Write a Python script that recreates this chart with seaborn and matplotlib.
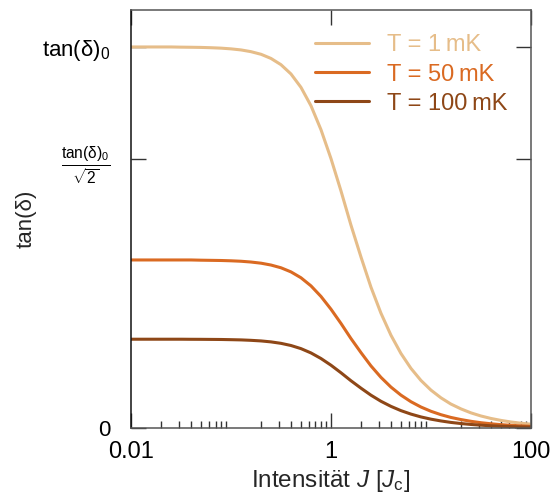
import matplotlib
matplotlib.use("Agg")
import matplotlib.pyplot as plt
from matplotlib.ticker import LogLocator, NullFormatter
import numpy as np
import pandas as pd
import seaborn as sns

# Intensity grid in units of the critical intensity J_c (10 points per decade)
intensity = [
    0.01, 0.0126, 0.0158, 0.02, 0.0251, 0.0316, 0.0398, 0.0501, 0.0631, 0.0794,
    0.1, 0.126, 0.158, 0.2, 0.251, 0.316, 0.398, 0.501, 0.631, 0.794,
    1.0, 1.26, 1.58, 2.0, 2.51, 3.16, 3.98, 5.01, 6.31, 7.94,
    10.0, 12.6, 15.8, 20.0, 25.1, 31.6, 39.8, 50.1, 63.1, 79.4,
    100.0,
]

# Loss tangent in units of tan(delta)_0 for each temperature
tan_1mK = [
    1.000, 1.000, 1.000, 1.000, 1.000, 0.9995, 0.9992, 0.9988, 0.998, 0.9969,
    0.995, 0.9922, 0.9877, 0.9807, 0.9699, 0.9535, 0.9291, 0.894, 0.8457, 0.783,
    0.7071, 0.622, 0.5336, 0.4481, 0.3699, 0.3015, 0.2436, 0.1957, 0.1565, 0.1249,
    0.0995, 0.0792, 0.063, 0.0501, 0.0398, 0.0316, 0.0251, 0.02, 0.0158, 0.0126,
    0.01,
]
tan_50mK = [
    0.441, 0.441, 0.441, 0.441, 0.441, 0.441, 0.441, 0.4404, 0.440, 0.4396,
    0.4388, 0.4376, 0.4356, 0.4325, 0.4277, 0.4205, 0.4097, 0.3943, 0.373, 0.3453,
    0.3118, 0.2743, 0.2353, 0.1976, 0.1631, 0.133, 0.1074, 0.0863, 0.069, 0.0551,
    0.0439, 0.0349, 0.0278, 0.0221, 0.0176, 0.0139, 0.0111, 0.0088, 0.007, 0.0056,
    0.0044,
]
tan_100mK = [
    0.233, 0.233, 0.233, 0.233, 0.233, 0.233, 0.2328, 0.2327, 0.2325, 0.2323,
    0.2318, 0.2312, 0.2301, 0.2285, 0.226, 0.2222, 0.2165, 0.2083, 0.197, 0.1824,
    0.1648, 0.1449, 0.1243, 0.1044, 0.0862, 0.0702, 0.0568, 0.0456, 0.0365, 0.0291,
    0.0232, 0.0185, 0.0147, 0.0117, 0.0093, 0.0074, 0.0058, 0.0047, 0.0037, 0.0029,
    0.0023,
]

labels = ["T = 1\u2009mK", "T = 50\u2009mK", "T = 100\u2009mK"]
colors = ["#E6BD89", "#DA6A22", "#8E4717"]

ytick_values = [0.0, 1 / np.sqrt(2), 1.0]
ytick_labels = ["0", r"$\frac{\mathrm{tan(δ)_0}}{\sqrt{2}}$", r"$\mathrm{tan(δ)_0}$"]
xtick_values = [0.01, 1, 100]
xtick_labels = ["0.01", "1", "100"]

df = pd.concat([
    pd.DataFrame({"J": intensity, "tan": vals, "T": lab})
    for vals, lab in zip([tan_1mK, tan_50mK, tan_100mK], labels)
])

sns.set_theme(style="ticks")
plt.rcParams["font.family"] = ["Liberation Sans", "DejaVu Sans"]
plt.rcParams["mathtext.fontset"] = "custom"
plt.rcParams["mathtext.rm"] = "Liberation Sans"
plt.rcParams["mathtext.it"] = "Liberation Sans:italic"
plt.rcParams["mathtext.bf"] = "Liberation Sans:bold"

fig = plt.figure(figsize=(5.53, 5.0), dpi=100)
ax = fig.add_axes([0.237, 0.144, 0.723, 0.836])

sns.lineplot(data=df, x="J", y="tan", hue="T", palette=colors,
             linewidth=2.2, ax=ax, legend=False)

ax.set_xscale("log")
ax.set_xlim(0.01, 100)
ax.set_ylim(0, 1.097)

ax.set_xticks(xtick_values)
ax.set_xticklabels(xtick_labels)
ax.xaxis.set_minor_locator(LogLocator(base=10, subs=np.arange(2, 10), numticks=50))
ax.xaxis.set_minor_formatter(NullFormatter())

ax.set_yticks(ytick_values)
ax.set_yticklabels(ytick_labels)
ax.get_yticklabels()[1].set_fontsize(13.5)

ax.tick_params(which="both", direction="in", top=True, right=True,
               colors="#333333", labelcolor="black")
ax.tick_params(axis="x", which="major", length=11, width=1, labelsize=17, pad=9)
ax.tick_params(axis="x", which="minor", length=5, width=1, top=False)
ax.tick_params(axis="y", which="major", length=11, width=1, labelsize=16, pad=15)

ax.spines["left"].set_color("#111111")
for side in ["top", "right", "bottom"]:
    ax.spines[side].set_color("#555555")
for sp in ax.spines.values():
    sp.set_linewidth(1.1)

ax.set_xlabel(r"Intensität $J$ [$J_\mathrm{c}$]", fontsize=17.5, labelpad=4)
ax.set_ylabel("tan(δ)", fontsize=16)
ax.yaxis.set_label_coords(-0.235, 0.5)

handles = [plt.Line2D([], [], color=c, lw=2.2) for c in colors]
leg = ax.legend(handles, labels, loc="upper right", frameon=False,
                fontsize=17, handlelength=2.25, handletextpad=0.8,
                labelspacing=0.3, borderaxespad=0.0,
                bbox_to_anchor=(0.966, 0.964))
for txt, c in zip(leg.get_texts(), colors):
    txt.set_color(c)

fig.savefig("out.png", dpi=100)
